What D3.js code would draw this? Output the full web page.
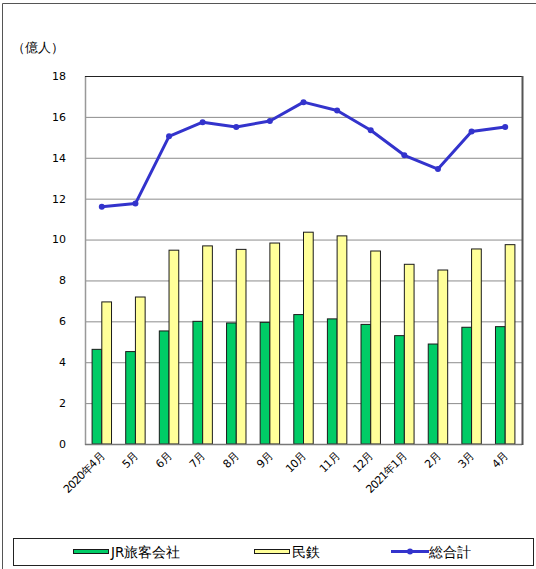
<!DOCTYPE html>
<html>
<head>
<meta charset="utf-8">
<script src="https://cdn.jsdelivr.net/npm/d3@7"></script>
<style>
body { margin: 0; background: #fff; }
text { font-family: "DejaVu Sans", Verdana, sans-serif; }
</style>
</head>
<body>
<script>
// months along the x axis
var months = ["2020年4月", "5月", "6月", "7月", "8月", "9月", "10月", "11月", "12月", "2021年1月", "2月", "3月", "4月"];
var seriesNames = ["JR旅客会社", "民鉄"];
var lineName = "総合計";
// values in 億人
var jr = [4.63, 4.52, 5.53, 6.0, 5.92, 5.95, 6.33, 6.12, 5.85, 5.3, 4.89, 5.71, 5.74];
var mintetsu = [6.95, 7.19, 9.48, 9.69, 9.52, 9.83, 10.36, 10.18, 9.44, 8.79, 8.51, 9.54, 9.75];
var total = [11.6, 11.76, 15.05, 15.74, 15.51, 15.8, 16.72, 16.31, 15.35, 14.12, 13.45, 15.28, 15.51];
var yTicks = [0, 2, 4, 6, 8, 10, 12, 14, 16, 18];

var W = 536, H = 569;
var pLeft = 85, pRight = 522, pTop = 76, pBottom = 444;
var colors = {"JR旅客会社": "#00cc66", "民鉄": "#ffff99"};
var lineColor = "#3333cc";

var svg = d3.select("body").append("svg")
    .attr("width", W)
    .attr("height", H);

// outer frame
svg.append("path")
    .attr("d", "M2.5," + H + "V3.5H" + W)
    .attr("fill", "none")
    .attr("stroke", "#555")
    .attr("stroke-width", 1);

var x = d3.scaleBand().domain(months).range([pLeft, pRight]).padding(0);
var xIn = d3.scaleBand().domain(seriesNames).range([0, x.bandwidth()]).paddingInner(0).paddingOuter(0.73);
var y = d3.scaleLinear().domain([0, 18]).range([pBottom, pTop]);

// grid lines
svg.append("g").selectAll("line")
    .data(yTicks.filter(function(d){return d > 0 && d < 18;}))
    .enter().append("line")
    .attr("x1", pLeft).attr("x2", pRight)
    .attr("y1", function(d){return y(d) + 0.5;})
    .attr("y2", function(d){return y(d) + 0.5;})
    .attr("stroke", "#8c8c8c")
    .attr("stroke-width", 1);

// bars
var rows = months.map(function(m, i){
    return {month: m, values: [{name: seriesNames[0], v: jr[i]}, {name: seriesNames[1], v: mintetsu[i]}]};
});
var groups = svg.append("g").selectAll("g")
    .data(rows)
    .enter().append("g")
    .attr("transform", function(d){return "translate(" + x(d.month) + ",0)";});

groups.selectAll("rect")
    .data(function(d){return d.values;})
    .enter().append("rect")
    .attr("x", function(d){return xIn(d.name);})
    .attr("y", function(d){return y(d.v);})
    .attr("width", xIn.bandwidth())
    .attr("height", function(d){return y(0) - y(d.v);})
    .attr("fill", function(d){return colors[d.name];})
    .attr("stroke", "#1a1a1a")
    .attr("stroke-width", 1);

// plot border: left/bottom grey, top black, right dark
svg.append("line").attr("x1", pLeft + 0.5).attr("x2", pLeft + 0.5).attr("y1", pTop).attr("y2", pBottom + 1)
    .attr("stroke", "#999").attr("stroke-width", 1.5);
svg.append("line").attr("x1", pLeft).attr("x2", pRight).attr("y1", pBottom + 0.5).attr("y2", pBottom + 0.5)
    .attr("stroke", "#777").attr("stroke-width", 1.5);
svg.append("line").attr("x1", pLeft).attr("x2", pRight).attr("y1", pTop + 0.5).attr("y2", pTop + 0.5)
    .attr("stroke", "#222").attr("stroke-width", 1);
svg.append("line").attr("x1", pRight + 0.5).attr("x2", pRight + 0.5).attr("y1", pTop).attr("y2", pBottom + 1)
    .attr("stroke", "#555").attr("stroke-width", 2);

// total line
var line = d3.line()
    .x(function(d, i){return x(months[i]) + x.bandwidth() / 2;})
    .y(function(d){return y(d);});
svg.append("path")
    .datum(total)
    .attr("d", line)
    .attr("fill", "none")
    .attr("stroke", lineColor)
    .attr("stroke-width", 3)
    .attr("stroke-linejoin", "round");
svg.append("g").selectAll("circle")
    .data(total)
    .enter().append("circle")
    .attr("cx", function(d, i){return x(months[i]) + x.bandwidth() / 2;})
    .attr("cy", function(d){return y(d);})
    .attr("r", 3)
    .attr("fill", lineColor);

// y axis labels
svg.append("g").selectAll("text")
    .data(yTicks)
    .enter().append("text")
    .attr("x", 66)
    .attr("y", function(d){return y(d);})
    .attr("dy", "0.35em")
    .attr("text-anchor", "end")
    .attr("font-size", 11)
    .attr("fill", "#000")
    .text(function(d){return d;});

svg.append("text")
    .attr("x", 12)
    .attr("y", 52)
    .attr("font-size", 12.5)
    .attr("font-family", "'Noto Sans CJK JP', sans-serif")
    .text("（億人）");

// x axis labels, rotated
svg.append("g").selectAll("text")
    .data(months)
    .enter().append("text")
    .attr("transform", function(d){
        return "translate(" + (x(d) + x.bandwidth() / 2 + 3) + "," + (pBottom + 13) + ") rotate(-45)";
    })
    .attr("text-anchor", "end")
    .attr("font-size", 11)
    .attr("letter-spacing", "-0.7px")
    .attr("font-family", "'Noto Sans CJK JP', sans-serif")
    .text(function(d){return d;});

// legend
var lg = svg.append("g");
lg.append("rect")
    .attr("x", 13.5).attr("y", 538.5)
    .attr("width", 520).attr("height", 27)
    .attr("fill", "#fff").attr("stroke", "#222").attr("stroke-width", 1);

var legendItems = [
    {name: seriesNames[0], kind: "bar", x: 73},
    {name: seriesNames[1], kind: "bar", x: 254},
    {name: lineName, kind: "line", x: 391}
];
legendItems.forEach(function(it){
    if (it.kind == "bar") {
        lg.append("rect")
            .attr("x", it.x + 0.5).attr("y", 549.5)
            .attr("width", 35).attr("height", 4)
            .attr("fill", colors[it.name]).attr("stroke", "#1a1a1a").attr("stroke-width", 1);
    } else {
        lg.append("line")
            .attr("x1", it.x).attr("x2", it.x + 38)
            .attr("y1", 551.5).attr("y2", 551.5)
            .attr("stroke", lineColor).attr("stroke-width", 3);
        lg.append("circle")
            .attr("cx", it.x + 19).attr("cy", 551.5).attr("r", 3)
            .attr("fill", lineColor);
    }
    lg.append("text")
        .attr("x", it.x + 38)
        .attr("y", 552)
        .attr("dy", "0.35em")
        .attr("font-size", 13.5)
        .attr("font-family", "'Noto Sans CJK JP', sans-serif")
        .text(it.name);
});
</script>
</body>
</html>
